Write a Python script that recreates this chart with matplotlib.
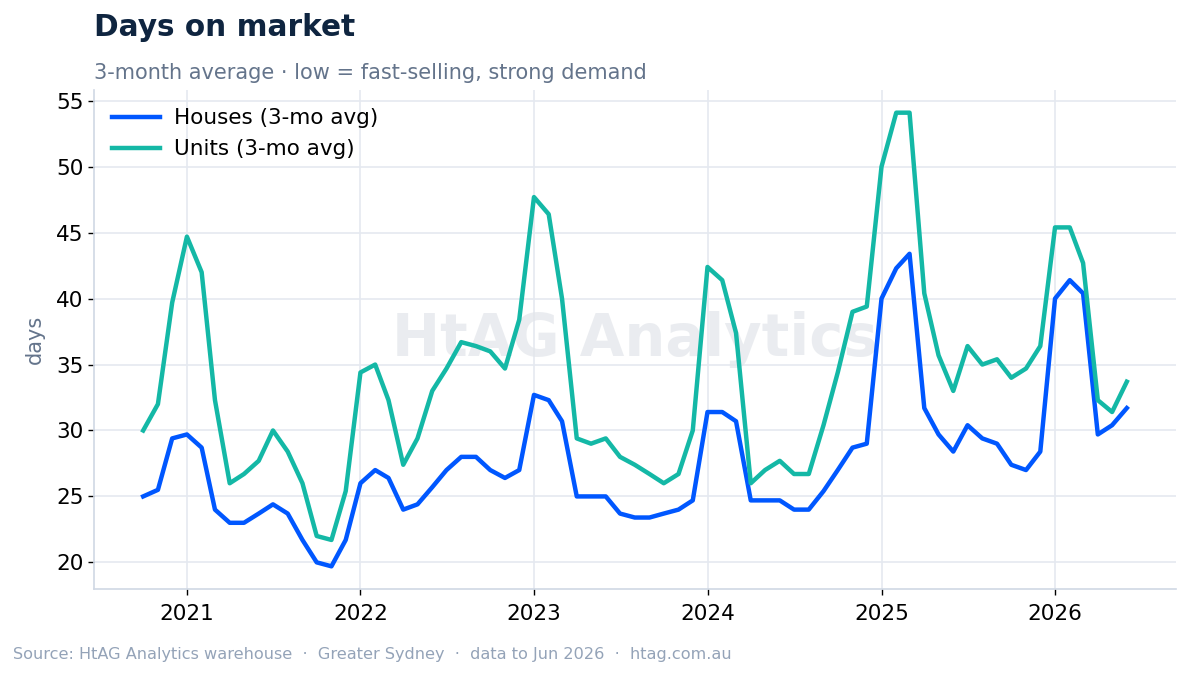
import matplotlib
matplotlib.use("Agg")
import matplotlib.pyplot as plt
import matplotlib.dates as mdates
import pandas as pd

months = pd.date_range("2020-10-01", "2026-06-01", freq="MS")

houses = [25.0, 25.5, 29.4, 29.7, 28.7, 24.0, 23.0, 23.0, 23.7, 24.4,
          23.7, 21.7, 20.0, 19.7, 21.7, 26.0, 27.0, 26.4, 24.0, 24.4,
          25.7, 27.0, 28.0, 28.0, 27.0, 26.4, 27.0, 32.7, 32.3, 30.7,
          25.0, 25.0, 25.0, 23.7, 23.4, 23.4, 23.7, 24.0, 24.7, 31.4,
          31.4, 30.7, 24.7, 24.7, 24.7, 24.0, 24.0, 25.4, 27.0, 28.7,
          29.0, 40.0, 42.3, 43.4, 31.7, 29.7, 28.4, 30.4, 29.4, 29.0,
          27.4, 27.0, 28.4, 40.0, 41.4, 40.4, 29.7, 30.4, 31.7]

units = [30.0, 32.0, 39.7, 44.7, 42.0, 32.3, 26.0, 26.7, 27.7, 30.0,
         28.4, 26.0, 22.0, 21.7, 25.4, 34.4, 35.0, 32.3, 27.4, 29.4,
         33.0, 34.7, 36.7, 36.4, 36.0, 34.7, 38.4, 47.7, 46.4, 40.0,
         29.4, 29.0, 29.4, 28.0, 27.4, 26.7, 26.0, 26.7, 30.0, 42.4,
         41.4, 37.4, 26.0, 27.0, 27.7, 26.7, 26.7, 30.4, 34.4, 39.0,
         39.4, 50.0, 54.1, 54.1, 40.4, 35.7, 33.0, 36.4, 35.0, 35.4,
         34.0, 34.7, 36.4, 45.4, 45.4, 42.7, 32.3, 31.4, 33.7]

yticks = [20, 25, 30, 35, 40, 45, 50, 55]

fig = plt.figure(figsize=(11.89, 6.76), dpi=100)
ax = fig.add_axes([94/1189, 1-589/676, (1176-94)/1189, (589-90)/676])

ax.plot(months, houses, color="#0057ff", lw=3.2, label="Houses (3-mo avg)", zorder=3)
ax.plot(months, units, color="#14b8a6", lw=3.2, label="Units (3-mo avg)", zorder=3)

ax.xaxis.set_major_locator(mdates.YearLocator())
ax.xaxis.set_major_formatter(mdates.DateFormatter("%Y"))
ax.set_yticks(yticks)
ax.grid(True, color="#e5e9f0", lw=1.2, zorder=0)
ax.set_axisbelow(True)
for s in ["top", "right"]:
    ax.spines[s].set_visible(False)
for s in ["left", "bottom"]:
    ax.spines[s].set_color("#d0d8e4")
    ax.spines[s].set_linewidth(1.2)
ax.tick_params(axis="both", labelsize=15.5, colors="#000000", length=4, width=1)
ax.tick_params(axis="x", pad=7)
ax.set_ylabel("days", fontsize=15, color="#64748b", labelpad=8)

ax.text(0.5, 0.5, "HtAG Analytics", transform=ax.transAxes, ha="center", va="center",
        fontsize=41.5, fontweight="bold", color="#e2e5ea", alpha=0.7, zorder=1)

leg = ax.legend(loc="upper left", frameon=False, fontsize=15.5, handlelength=2.2,
                handletextpad=0.65, borderaxespad=0.45)

fig.text(94/1189, 1-27/676, "Days on market", fontsize=21.3, fontweight="bold",
         color="#0f2540", ha="left", va="center")
fig.text(94/1189, 1-73/676, "3-month average · low = fast-selling, strong demand",
         fontsize=15, color="#64748b", ha="left", va="center")
fig.text(13/1189, 1-655/676,
         "Source: HtAG Analytics warehouse  ·  Greater Sydney  ·  data to Jun 2026  ·  htag.com.au",
         fontsize=11.65, color="#94a3b8", ha="left", va="center")

fig.savefig("out.png", dpi=100)
